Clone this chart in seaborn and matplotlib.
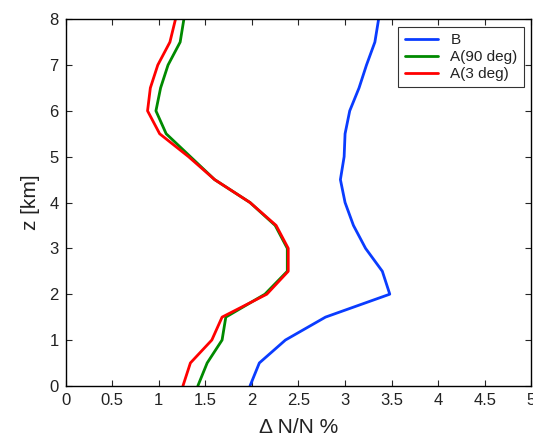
import numpy as np
import pandas as pd
import matplotlib
matplotlib.use("Agg")
import matplotlib.pyplot as plt
import seaborn as sns

# === Data ===
z_km = [0, 0.5, 1, 1.5, 2, 2.5, 3, 3.5, 4, 4.5, 5, 5.5, 6, 6.5, 7, 7.5, 8]
dn_b = [1.98, 2.08, 2.36, 2.79, 3.48, 3.40, 3.22, 3.09, 3.00, 2.95, 2.99, 3.00, 3.05, 3.15, 3.23, 3.32, 3.36]
dn_a90 = [1.42, 1.52, 1.68, 1.72, 2.14, 2.38, 2.38, 2.25, 1.98, 1.60, 1.34, 1.08, 0.97, 1.02, 1.10, 1.23, 1.27]
dn_a3 = [1.26, 1.34, 1.57, 1.68, 2.16, 2.39, 2.39, 2.26, 1.98, 1.60, 1.32, 1.01, 0.88, 0.91, 0.99, 1.12, 1.18]
series_names = ["B", "A(90 deg)", "A(3 deg)"]
colors = {"B": "#0a3cff", "A(90 deg)": "#008a00", "A(3 deg)": "#ff0000"}

df = pd.DataFrame({
    "z": z_km * 3,
    "dn": dn_b + dn_a90 + dn_a3,
    "series": np.repeat(series_names, len(z_km)),
})

sns.set_style("ticks")
plt.rcParams["font.family"] = ["Liberation Sans", "DejaVu Sans"]
plt.rcParams["text.color"] = "#222222"

fig = plt.figure(figsize=(5.33, 4.36), dpi=100)
ax = fig.add_axes([0.123, 0.115, 0.874, 0.841])

sns.lineplot(data=df, x="dn", y="z", hue="series", hue_order=series_names,
             palette=colors, orient="y", sort=False, linewidth=2.0, ax=ax)

ax.set_xlim(0, 5)
ax.set_ylim(0, 8)
ax.set_xticks(np.arange(0, 5.01, 0.5))
ax.set_xticklabels(["0", "0.5", "1", "1.5", "2", "2.5", "3", "3.5", "4", "4.5", "5"])
ax.set_yticks(range(0, 9))
ax.tick_params(direction="in", top=True, right=True, length=4, width=0.8,
               labelsize=12, labelcolor="#222222", pad=5)
for s in ax.spines.values():
    s.set_linewidth(1.0)
    s.set_color("black")

ax.set_xlabel("Δ N/N %", fontsize=15, color="#222222", labelpad=7)
ax.set_ylabel("z [km]", fontsize=15, color="#222222", labelpad=7)

leg = ax.legend(loc="upper right", fontsize=11, frameon=True, fancybox=False,
                handlelength=2.2, borderaxespad=0.5, labelspacing=0.2)
leg.get_frame().set_edgecolor("black")
leg.get_frame().set_linewidth(0.8)

fig.savefig("out.png", dpi=100)
